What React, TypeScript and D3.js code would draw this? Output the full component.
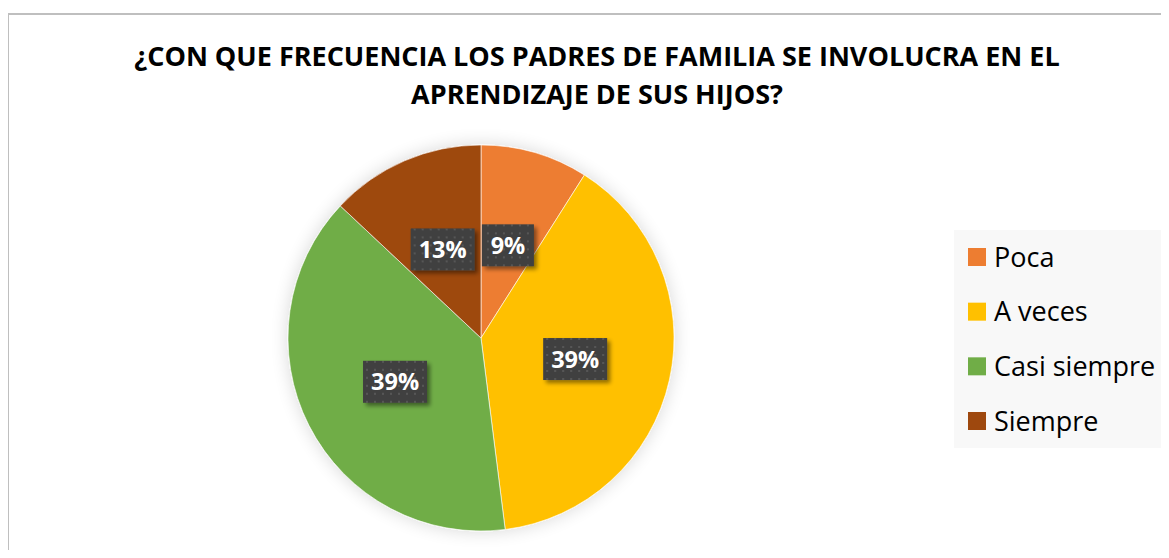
import { useEffect, useRef } from "react";
import * as d3 from "d3";

const categories = ["Poca", "A veces", "Casi siempre", "Siempre"];
const values = [9, 39, 39, 13];
const colors = ["#ED7D31", "#FFC000", "#70AD47", "#9E480E"];
const titleLines = [
  "¿CON QUE FRECUENCIA LOS PADRES DE FAMILIA SE INVOLUCRA EN EL",
  "APRENDIZAJE DE SUS HIJOS?",
];

export default function App() {
  const svgRef = useRef<SVGSVGElement>(null);

  useEffect(() => {
    if (!svgRef.current) return;
    const width = 1169;
    const height = 558;
    const cx = 481;
    const cy = 338;
    const radius = 193;

    const svg = d3.select(svgRef.current);
    svg.selectAll("*").remove();
    svg.attr("width", width).attr("height", height);

    const defs = svg.append("defs");

    // Soft glow behind the pie
    const glow = defs
      .append("filter")
      .attr("id", "pieShadow")
      .attr("x", "-20%")
      .attr("y", "-20%")
      .attr("width", "140%")
      .attr("height", "140%");
    glow.append("feGaussianBlur").attr("in", "SourceAlpha").attr("stdDeviation", 9).attr("result", "b");
    glow
      .append("feComponentTransfer")
      .attr("in", "b")
      .attr("result", "s")
      .append("feFuncA")
      .attr("type", "linear")
      .attr("slope", 0.16);
    const gm = glow.append("feMerge");
    gm.append("feMergeNode").attr("in", "s");
    gm.append("feMergeNode").attr("in", "SourceGraphic");

    // Label box shadow
    const boxShadow = defs
      .append("filter")
      .attr("id", "boxShadow")
      .attr("x", "-20%")
      .attr("y", "-20%")
      .attr("width", "150%")
      .attr("height", "160%");
    boxShadow.append("feGaussianBlur").attr("in", "SourceAlpha").attr("stdDeviation", 2).attr("result", "b");
    boxShadow.append("feOffset").attr("in", "b").attr("dx", 3).attr("dy", 3).attr("result", "o");
    boxShadow
      .append("feComponentTransfer")
      .attr("in", "o")
      .attr("result", "s")
      .append("feFuncA")
      .attr("type", "linear")
      .attr("slope", 0.45);
    const bm = boxShadow.append("feMerge");
    bm.append("feMergeNode").attr("in", "s");
    bm.append("feMergeNode").attr("in", "SourceGraphic");

    // Dotted fill for labels
    const pat = defs
      .append("pattern")
      .attr("id", "dots")
      .attr("width", 8)
      .attr("height", 8)
      .attr("patternUnits", "userSpaceOnUse");
    pat.append("rect").attr("width", 8).attr("height", 8).attr("fill", "#404040");
    pat.append("rect").attr("x", 3).attr("y", 3).attr("width", 2).attr("height", 2).attr("fill", "#575757");

    // Background + border
    svg.append("rect").attr("width", width).attr("height", height).attr("fill", "#fff");
    svg
      .append("path")
      .attr("d", `M8,${height} V14 H${width}`)
      .attr("fill", "none")
      .attr("stroke", "#bfbfbf")
      .attr("stroke-width", 2);

    // Title
    svg
      .append("g")
      .selectAll("text")
      .data(titleLines)
      .join("text")
      .attr("x", 597)
      .attr("y", (_, i) => 66 + i * 38)
      .attr("text-anchor", "middle")
      .attr("font-family", "'Open Sans', sans-serif")
      .attr("font-weight", 700)
      .attr("font-size", 27)
      .attr("fill", "#000")
      .text((d) => d);

    // Pie
    const pie = d3
      .pie<number>()
      .sort(null)
      .value((d) => d);
    const arcs = pie(values);
    const arc = d3.arc<d3.PieArcDatum<number>>().innerRadius(0).outerRadius(radius);

    const g = svg.append("g").attr("transform", `translate(${cx},${cy})`);
    g.append("g")
      .attr("filter", "url(#pieShadow)")
      .selectAll("path")
      .data(arcs)
      .join("path")
      .attr("d", arc)
      .attr("fill", (_, i) => colors[i])
      .attr("stroke", "#fff")
      .attr("stroke-width", 0.6);

    // Data labels
    const labels = g
      .append("g")
      .selectAll("g")
      .data(arcs)
      .join("g")
      .attr("transform", (d) => {
        const [x, y] = arc.centroid(d);
        return `translate(${x},${y})`;
      });
    labels
      .append("rect")
      .attr("x", (d) => (d.data < 10 ? -26 : -32))
      .attr("y", -21)
      .attr("width", (d) => (d.data < 10 ? 52 : 64))
      .attr("height", 42)
      .attr("fill", "url(#dots)")
      .attr("filter", "url(#boxShadow)");
    labels
      .append("text")
      .attr("text-anchor", "middle")
      .attr("dy", "0.36em")
      .attr("font-family", "'Open Sans', sans-serif")
      .attr("font-weight", 700)
      .attr("font-size", 23.5)
      .attr("fill", "#fff")
      .text((d) => `${d.data}%`);

    // Legend
    const legend = svg.append("g");
    legend
      .append("rect")
      .attr("x", 954)
      .attr("y", 230)
      .attr("width", width - 954)
      .attr("height", 218)
      .attr("fill", "#f8f8f8");
    const rowY = d3.scalePoint<string>().domain(categories).range([257, 421]);
    const items = legend
      .selectAll("g")
      .data(categories)
      .join("g")
      .attr("transform", (d) => `translate(968,${rowY(d)})`);
    items
      .append("rect")
      .attr("y", -9)
      .attr("width", 18)
      .attr("height", 18)
      .attr("fill", (_, i) => colors[i]);
    items
      .append("text")
      .attr("x", 26)
      .attr("dy", "0.36em")
      .attr("font-family", "'Open Sans', sans-serif")
      .attr("font-size", 27)
      .attr("fill", "#000")
      .text((d) => d);
  }, []);

  return <svg ref={svgRef} style={{ display: "block", margin: "-8px" }} />;
}
